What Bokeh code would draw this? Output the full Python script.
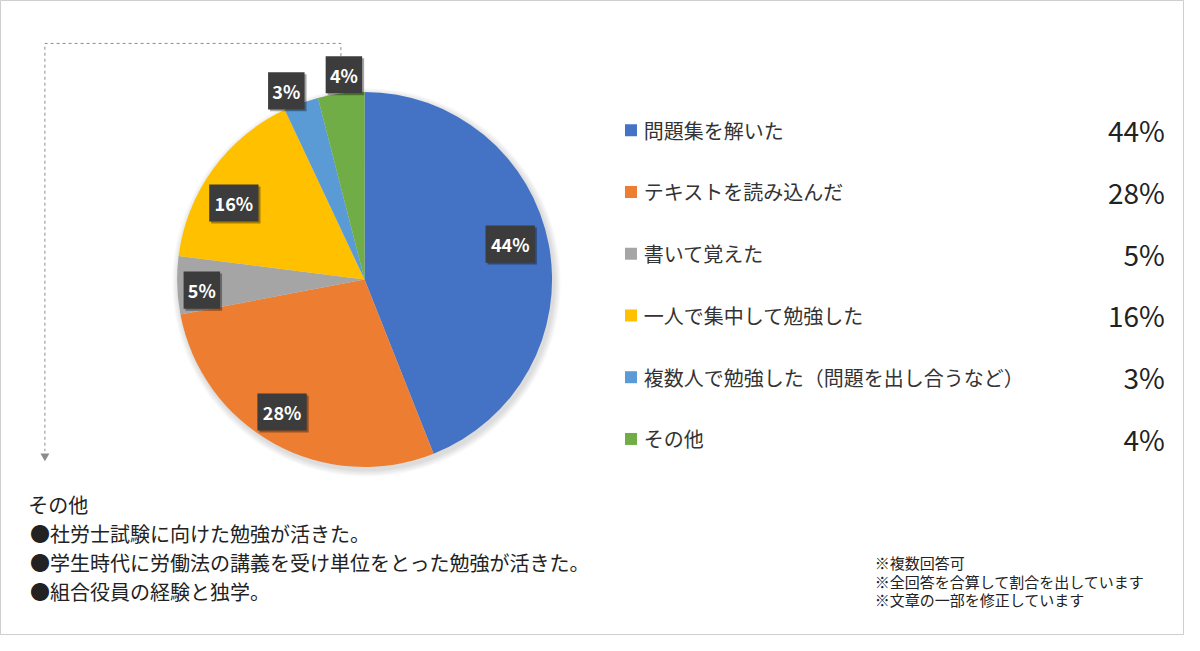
import math
from bokeh.plotting import figure
from bokeh.models import Range1d, ColumnDataSource
from bokeh.core.properties import value
from bokeh.embed import file_html
from bokeh.resources import INLINE

# ---------------- data ----------------
categories = ["問題集を解いた", "テキストを読み込んだ", "書いて覚えた",
              "一人で集中して勉強した", "複数人で勉強した（問題を出し合うなど）", "その他"]
shares = [44, 28, 5, 16, 3, 4]
colors = ["#4472C4", "#ED7D31", "#A5A5A5", "#FFC000", "#5B9BD5", "#70AD47"]
other_title = "その他"
other_comments = ["●社労士試験に向けた勉強が活きた。",
                  "●学生時代に労働法の講義を受け単位をとった勉強が活きた。",
                  "●組合役員の経験と独学。"]
notes = ["※複数回答可", "※全回答を合算して割合を出しています", "※文章の一部を修正しています"]

# ---------------- layout / style ----------------
FONT = value("Noto Sans CJK JP")
NUM_FONT = value("'Liberation Sans Narrow', 'Noto Sans CJK JP'")
CX, CY, R = 369, -286, 190          # reference pixel space (y negated)
label_radius = [0.80, 0.84, 0.87, 0.81, 1.10, 1.11]
label_turn_deg = [3.0, -2.8, 2.0, 5.4, 2.5, -1.5]

p = figure(width=1184, height=635, x_range=Range1d(0, 1200), y_range=Range1d(-651, 0),
           output_backend="svg", toolbar_location=None,
           x_axis_location=None, y_axis_location=None, min_border=0)
p.grid.visible = False
p.outline_line_color = "#cfcfcf"
p.background_fill_color = "white"

# pie shadow
for k in range(1, 8):
    p.circle(x=CX + 2, y=CY - 3, radius=R + k, fill_color="black",
             fill_alpha=0.018, line_color=None)

total = sum(shares)
starts, ends, mids = [], [], []
cum = 0
for v in shares:
    a0 = math.pi / 2 - 2 * math.pi * cum / total
    a1 = math.pi / 2 - 2 * math.pi * (cum + v) / total
    starts.append(a0)
    ends.append(a1)
    mids.append((a0 + a1) / 2)
    cum += v

src = ColumnDataSource(dict(start=starts, end=ends, color=colors))
p.wedge(x=CX, y=CY, radius=R, start_angle="start", end_angle="end",
        direction="clock", fill_color="color", line_color=None, source=src)

# data labels
lab_text = [f"{v}%" for v in shares]
ang = [m + math.radians(t) for m, t in zip(mids, label_turn_deg)]
lx = [CX + f * R * math.cos(a) for f, a in zip(label_radius, ang)]
ly = [CY + f * R * math.sin(a) for f, a in zip(label_radius, ang)]
lw = [11 + 13 * len(t) for t in lab_text]
lsrc = ColumnDataSource(dict(x=lx, y=ly, sx=[x + 2 for x in lx], sy=[y - 2 for y in ly],
                             w=lw, t=lab_text))
p.rect(x="sx", y="sy", width="w", height=38, fill_color="#000000", fill_alpha=0.35,
       line_color=None, source=lsrc)
p.rect(x="x", y="y", width="w", height=38, fill_color="#3c3c3c", line_color=None, source=lsrc)
p.text(x="x", y="y", text="t", text_color="white", text_font=FONT, text_font_style="bold",
       text_font_size="18px", text_align="center", text_baseline="middle", source=lsrc)

# dashed connector
dash_col = "#8c8c8c"
p.line(x=[345, 345, 45, 45], y=[-57, -44, -44, -462], line_color=dash_col,
       line_dash="3 3", line_width=1)
p.scatter(x=[45], y=[-467], marker="inverted_triangle", size=9,
          fill_color=dash_col, line_color=None)

# legend
rows_y = [-(133 + i * 63.3) for i in range(len(categories))]
p.scatter(x=[639] * len(categories), y=rows_y, marker="square", size=12,
          fill_color=colors, line_color=None)
p.text(x=[652] * len(categories), y=rows_y, text=categories, text_font=FONT,
       text_font_size="20px", text_color="#333333", text_baseline="middle")
p.text(x=[1180] * len(categories), y=rows_y, text=[f"{v}%" for v in shares], text_font=NUM_FONT,
       text_font_size="28px", text_color="#222222", text_baseline="middle", text_align="right")

# bottom-left comments
bl_lines = [other_title] + other_comments
bl_y = [-(517 + i * 29.5) for i in range(len(bl_lines))]
bl_x = [28] + [30] * len(other_comments)
p.text(x=bl_x, y=bl_y, text=bl_lines, text_font=FONT, text_font_size="20px",
       text_color="#222222", text_baseline="middle")

# notes
n_y = [-(576 + i * 19.3) for i in range(len(notes))]
p.text(x=[886] * len(notes), y=n_y, text=notes, text_font=FONT, text_font_size="15px",
       text_color="#222222", text_baseline="middle")

open("out.html", "w").write(file_html(p, INLINE))
